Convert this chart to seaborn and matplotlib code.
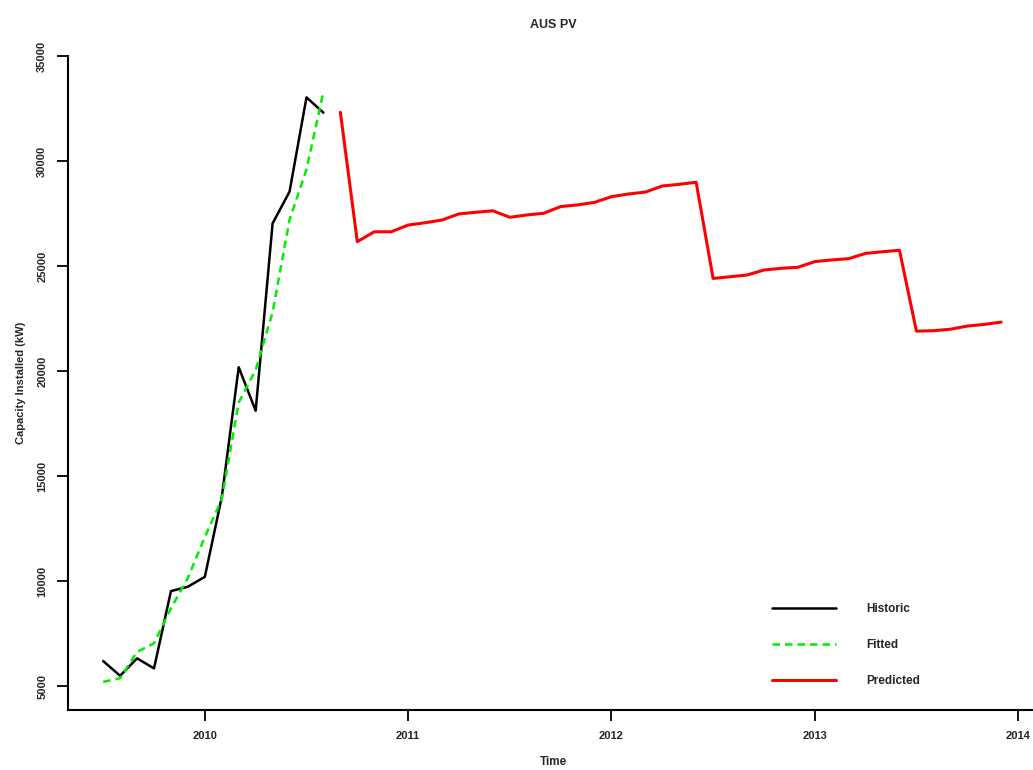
import numpy as np
import pandas as pd
import matplotlib
matplotlib.use("Agg")
import matplotlib.pyplot as plt
import seaborn as sns

# monthly series (R ts style, decimal years)
hist_start = 2009.5      # Jul 2009
pred_start = 2010 + 8/12 # Sep 2010

historic = [6190, 5490, 6320, 5840, 9520, 9730, 10200, 14000,
            20180, 18110, 27030, 28540, 33030, 32300]
fitted = [5200, 5370, 6630, 7030, 8700, 10150, 12100, 13900,
          18500, 20050, 22800, 27200, 29600, 33300]
predicted = [32320, 26160, 26630, 26630,
             26950, 27060, 27190, 27480, 27560, 27630, 27320, 27430, 27510, 27830, 27910, 28030,
             28300, 28430, 28520, 28810, 28890, 28990, 24410, 24490, 24570, 24810, 24890, 24940,
             25210, 25290, 25350, 25600, 25680, 25750, 21900, 21920, 21990, 22140, 22220, 22330]

x_ticks = [2010, 2011, 2012, 2013, 2014]
y_ticks = [5000, 10000, 15000, 20000, 25000, 30000, 35000]

df_hist = pd.DataFrame({"time": hist_start + np.arange(len(historic)) / 12, "kw": historic})
df_fit = pd.DataFrame({"time": hist_start + np.arange(len(fitted)) / 12, "kw": fitted})
df_pred = pd.DataFrame({"time": pred_start + np.arange(len(predicted)) / 12, "kw": predicted})

sns.set_style("white")
plt.rcParams["font.family"] = ["Liberation Sans", "DejaVu Sans"]
plt.rcParams["font.weight"] = "bold"

fig = plt.figure(figsize=(10.33, 7.7), dpi=100)
ax = fig.add_axes([68/1033, 60/770, 970/1033, 654/770])

sns.lineplot(data=df_hist, x="time", y="kw", color="black", lw=1.8, ax=ax, label="Historic")
sns.lineplot(data=df_fit, x="time", y="kw", color="#00ee00", lw=1.8, ax=ax, label="Fitted",
             linestyle=(0, (3, 2)))
sns.lineplot(data=df_pred, x="time", y="kw", color="red", lw=2.2, ax=ax, label="Predicted")

ax.set_xlim(2009.327, 2014.098)
ax.set_ylim(3860, 35000)
ax.set_xticks(x_ticks)
ax.set_xticklabels([str(t) for t in x_ticks], fontsize=8, fontweight="bold")
ax.set_yticks(y_ticks)
ax.set_yticklabels([str(t) for t in y_ticks], fontsize=8, fontweight="bold",
                   rotation=90, va="center")
ax.tick_params(axis="both", direction="out", length=8, width=1.3, color="black",
               bottom=True, left=True)
ax.tick_params(axis="x", pad=7)
ax.tick_params(axis="y", pad=7)
for s in ["top", "right"]:
    ax.spines[s].set_visible(False)
for s in ["left", "bottom"]:
    ax.spines[s].set_color("black")
    ax.spines[s].set_linewidth(1.5)

ax.set_xlabel("Time", fontsize=8.5, fontweight="bold", labelpad=11)
ax.set_ylabel("Capacity Installed (kW)", fontsize=8, fontweight="bold", labelpad=8)
ax.set_title("AUS PV", fontsize=9, fontweight="bold", pad=20)

ax.legend(loc="upper left", bbox_to_anchor=(0.715, 0.18), frameon=False,
          handlelength=5.4, handletextpad=2.6, labelspacing=2.05,
          prop={"weight": "bold", "size": 8.5})

fig.savefig("out.png", dpi=100)
